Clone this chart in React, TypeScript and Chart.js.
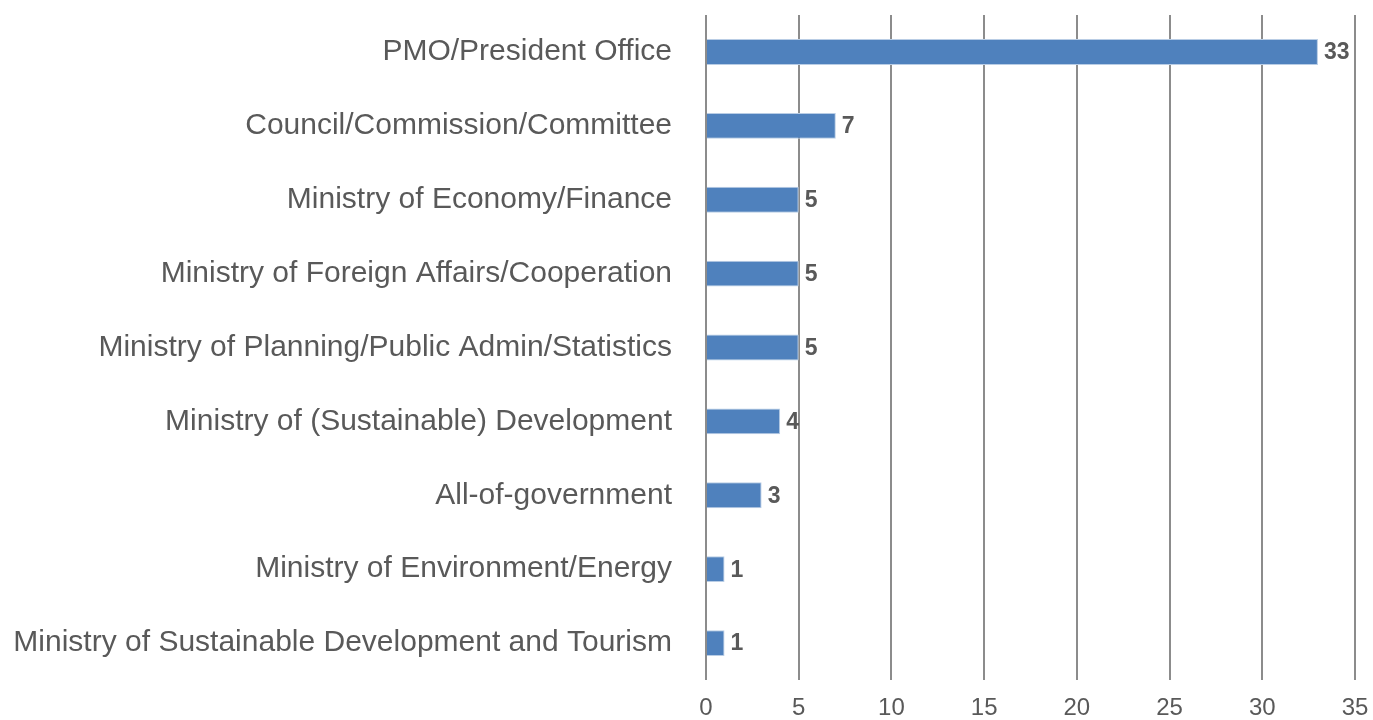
import React, { useEffect, useRef } from "react";
import { Chart, registerables } from "chart.js";

Chart.register(...registerables);

const categories = [
  "PMO/President Office",
  "Council/Commission/Committee",
  "Ministry of Economy/Finance",
  "Ministry of Foreign Affairs/Cooperation",
  "Ministry of Planning/Public Admin/Statistics",
  "Ministry of (Sustainable) Development",
  "All-of-government",
  "Ministry of Environment/Energy",
  "Ministry of Sustainable Development and Tourism",
];
const values = [33, 7, 5, 5, 5, 4, 3, 1, 1];
const xMin = 0;
const xMax = 35;
const xStep = 5;

const FONT = "'Liberation Sans', Arial, Helvetica, sans-serif";
const TEXT = "#595959";

const dataLabels = {
  id: "dataLabels",
  afterDatasetsDraw(chart: any) {
    const ctx = chart.ctx;
    const meta = chart.getDatasetMeta(0);
    ctx.save();
    ctx.font = `bold 23px ${FONT}`;
    ctx.fillStyle = TEXT;
    ctx.textAlign = "left";
    ctx.textBaseline = "middle";
    meta.data.forEach((bar: any, i: number) => {
      ctx.fillText(String(values[i]), bar.x + 6, bar.y + 1);
    });
    ctx.restore();
  },
};

export default function App() {
  const ref = useRef<HTMLCanvasElement>(null);
  useEffect(() => {
    if (!ref.current) return;
    const chart = new Chart(ref.current, {
      type: "bar",
      data: {
        labels: categories,
        datasets: [
          {
            data: values,
            backgroundColor: "#4f81bd",
            borderColor: "#b9cde5",
            borderWidth: 1,
            barPercentage: 0.35,
            categoryPercentage: 1,
          },
        ],
      },
      options: {
        indexAxis: "y",
        animation: false,
        responsive: false,
        maintainAspectRatio: false,
        layout: { padding: { top: 15, right: 18, left: 0, bottom: 0 } },
        plugins: { legend: { display: false }, tooltip: { enabled: false } },
        scales: {
          x: {
            min: xMin,
            max: xMax,
            ticks: {
              stepSize: xStep,
              color: TEXT,
              font: { family: FONT, size: 24 },
              padding: 14,
            },
            grid: { color: "#8c8c8c", lineWidth: 2, drawTicks: false },
            border: { display: false },
            afterFit: (s: any) => {
              s.height = 40;
              s.paddingLeft = 0;
              s.paddingRight = 0;
            },
          },
          y: {
            ticks: {
              color: TEXT,
              font: { family: FONT, size: 30 },
              padding: 34,
            },
            grid: { display: false, drawTicks: false },
            border: { display: false },
            afterFit: (s: any) => {
              s.width = 706;
              s.paddingTop = 0;
              s.paddingBottom = 0;
            },
          },
        },
      },
      plugins: [dataLabels],
    });
    return () => chart.destroy();
  }, []);
  return (
    <div style={{ position: "absolute", left: 0, top: 0, width: 1373, height: 720, background: "#fff" }}>
      <canvas ref={ref} width={1373} height={720} style={{ width: 1373, height: 720 }} />
    </div>
  );
}
